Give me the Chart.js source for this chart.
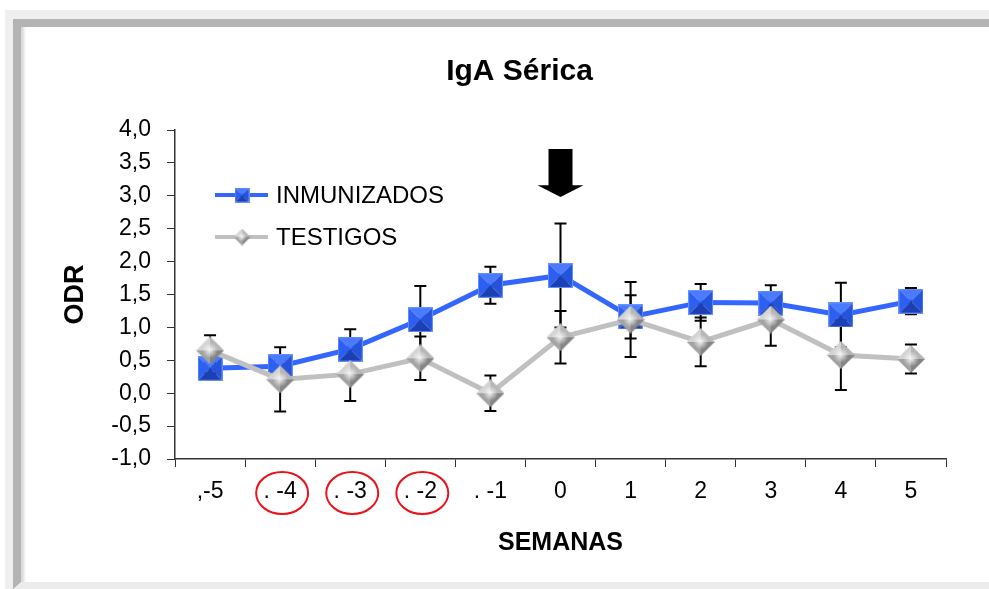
<!DOCTYPE html>
<html>
<head>
<meta charset="utf-8">
<title>IgA Sérica</title>
<script src="https://cdn.jsdelivr.net/npm/chart.js@4.4.1/dist/chart.umd.min.js"></script>
<style>
    html, body { margin: 0; padding: 0; width: 989px; height: 589px; overflow: hidden; background: #fff; }
    #outer { position: absolute; left: 5px; top: 10px; right: 0; bottom: 0; background: #efefef; }
    #frame { position: absolute; left: 13px; top: 19px; right: 0; bottom: 0; box-sizing: border-box;
             border-top: 8px solid #b4b4b4; border-left: 8px solid #b4b4b4; border-bottom: 7px solid #ececec;
             background: #fff; box-shadow: inset 5px 0 3px -2px #d8d8d8; }
    #chartBox { position: absolute; left: 0; top: 0; width: 989px; height: 589px; }
</style>
</head>
<body>
<div id="outer"></div>
<div id="frame"></div>
<div id="chartBox"><canvas id="igaChart" width="989" height="589"></canvas></div>
<script>
// Data
const semanas = [',-5', '. -4', '. -3', '. -2', '. -1', '0', '1', '2', '3', '4', '5'];
const inmunizados = [0.38, 0.41, 0.67, 1.12, 1.64, 1.79, 1.16, 1.38, 1.37, 1.19, 1.40];
const inmunizadosErr = [0.08, 0.10, 0.30, 0.51, 0.28, 0.79, 0.33, 0.28, 0.27, 0.49, 0.20];
const testigos = [0.65, 0.21, 0.29, 0.53, 0.00, 0.85, 1.12, 0.78, 1.12, 0.58, 0.52];
const testigosErr = [0.23, 0.49, 0.41, 0.33, 0.27, 0.40, 0.57, 0.37, 0.40, 0.53, 0.22];
const circledWeeks = [1, 2, 3];          // labels ringed in red
const arrowWeek = 5;                     // arrow over week 0
const arrowValues = [3.71, 3.16, 2.98];  // shaft top, head start, tip (ODR units)
const chartTitle = 'IgA Sérica';

const FONT = '"Liberation Sans", Arial, sans-serif';
Chart.defaults.font.family = FONT;

// Helper to fill a triangle
function tri(g, a, b, c, color) {
    g.beginPath();
    g.moveTo(a[0], a[1]);
    g.lineTo(b[0], b[1]);
    g.lineTo(c[0], c[1]);
    g.closePath();
    g.fillStyle = color;
    g.fill();
}

// Beveled blue square marker (Excel style)
function makeSquare(size) {
    const c = document.createElement('canvas');
    c.width = c.height = size;
    const g = c.getContext('2d');
    const m = size / 2;
    tri(g, [0, 0], [size, 0], [m, m], '#4a7bff');
    tri(g, [0, 0], [0, size], [m, m], '#2d60f2');
    tri(g, [size, 0], [size, size], [m, m], '#2553da');
    tri(g, [0, size], [size, size], [m, m], '#1c40b4');
    g.strokeStyle = 'rgba(110,150,255,0.9)';
    g.lineWidth = 1;
    g.strokeRect(0.5, 0.5, size - 1, size - 1);
    return c;
}

// Beveled gray diamond marker
function makeDiamond(size) {
    const c = document.createElement('canvas');
    c.width = c.height = size;
    const g = c.getContext('2d');
    const m = size / 2;
    tri(g, [m, 0], [0, m], [m, m], '#d4d4d4');
    tri(g, [m, 0], [size, m], [m, m], '#b6b6b6');
    tri(g, [0, m], [m, size], [m, m], '#a2a2a2');
    tri(g, [size, m], [m, size], [m, m], '#858585');
    const rg = g.createRadialGradient(m, m, 0, m, m, m * 0.55);
    rg.addColorStop(0, 'rgba(255,255,255,0.85)');
    rg.addColorStop(1, 'rgba(255,255,255,0)');
    g.beginPath();
    g.moveTo(m, 0); g.lineTo(size, m); g.lineTo(m, size); g.lineTo(0, m);
    g.closePath();
    g.fillStyle = rg;
    g.fill();
    return c;
}

const squareBig = makeSquare(25);
const diamondBig = makeDiamond(28);
const squareSmall = makeSquare(15);
const diamondSmall = makeDiamond(17);

// Error bars drawn under the lines and markers
const errorBarPlugin = {
    id: 'errorBars',
    beforeDatasetsDraw(chart) {
        const ctx = chart.ctx;
        const y = chart.scales.y;
        ctx.save();
        ctx.strokeStyle = '#000';
        ctx.lineWidth = 2;
        chart.data.datasets.forEach((ds, i) => {
            const meta = chart.getDatasetMeta(i);
            meta.data.forEach((pt, j) => {
                const e = ds.errors[j];
                const top = y.getPixelForValue(ds.data[j] + e);
                const bot = y.getPixelForValue(ds.data[j] - e);
                ctx.beginPath();
                ctx.moveTo(pt.x, top); ctx.lineTo(pt.x, bot);
                ctx.moveTo(pt.x - 6, top); ctx.lineTo(pt.x + 6, top);
                ctx.moveTo(pt.x - 6, bot); ctx.lineTo(pt.x + 6, bot);
                ctx.stroke();
            });
        });
        ctx.restore();
    }
};

// Title, arrow, red circles and the in-plot legend
const annotationPlugin = {
    id: 'annotations',
    afterDraw(chart) {
        const ctx = chart.ctx;
        const xs = chart.scales.x;
        const ys = chart.scales.y;
        const area = chart.chartArea;
        ctx.save();

        // title (sits a little left of the plot centre, like the original)
        ctx.fillStyle = '#000';
        ctx.font = 'bold 30px ' + FONT;
        ctx.textAlign = 'center';
        ctx.textBaseline = 'middle';
        ctx.fillText(chartTitle, (area.left + area.right) / 2 - 41, area.top - 58);

        // black arrow
        const ax = xs.getPixelForValue(arrowWeek);
        const y0 = ys.getPixelForValue(arrowValues[0]);
        const y1 = ys.getPixelForValue(arrowValues[1]);
        const y2 = ys.getPixelForValue(arrowValues[2]);
        ctx.beginPath();
        ctx.moveTo(ax - 12, y0); ctx.lineTo(ax + 12, y0); ctx.lineTo(ax + 12, y1);
        ctx.lineTo(ax + 23, y1); ctx.lineTo(ax, y2); ctx.lineTo(ax - 23, y1);
        ctx.lineTo(ax - 12, y1);
        ctx.closePath();
        ctx.fill();

        // red ellipses round the tick labels
        ctx.strokeStyle = '#e8141c';
        ctx.lineWidth = 2;
        circledWeeks.forEach(i => {
            const cx = xs.getPixelForValue(i) + 2;
            ctx.beginPath();
            ctx.ellipse(cx, xs.top + 34, 26, 21, 0, 0, Math.PI * 2);
            ctx.stroke();
        });

        // legend
        ctx.textAlign = 'left';
        chart.data.datasets.forEach((ds, i) => {
            const ly = area.top + 65 + i * 42;
            const lx = area.left + 40;
            ctx.strokeStyle = ds.borderColor;
            ctx.lineWidth = 4;
            ctx.beginPath();
            ctx.moveTo(lx, ly); ctx.lineTo(lx + 53, ly);
            ctx.stroke();
            const img = ds.legendMarker;
            ctx.drawImage(img, lx + 27 - img.width / 2, ly - img.height / 2);
            ctx.fillStyle = '#000';
            ctx.font = '24px ' + FONT;
            ctx.fillText(ds.label, lx + 61, ly + 1);
        });
        ctx.restore();
    }
};

function renderChart() {
    const ctx = document.getElementById('igaChart').getContext('2d');
    new Chart(ctx, {
        type: 'line',
        data: {
            labels: semanas,
            datasets: [{
                label: 'INMUNIZADOS',
                data: inmunizados,
                errors: inmunizadosErr,
                borderColor: '#3366ff',
                borderWidth: 5,
                pointStyle: squareBig,
                legendMarker: squareSmall,
                tension: 0,
                order: 1
            }, {
                label: 'TESTIGOS',
                data: testigos,
                errors: testigosErr,
                borderColor: '#c0c0c0',
                borderWidth: 5,
                pointStyle: diamondBig,
                legendMarker: diamondSmall,
                tension: 0,
                order: 0
            }]
        },
        options: {
            responsive: false,
            animation: false,
            layout: { padding: { left: 0, right: 43, top: 130, bottom: 0 } },
            plugins: {
                legend: { display: false },
                tooltip: { enabled: false },
                title: { display: false }
            },
            scales: {
                x: {
                    offset: true,
                    grid: { offset: true, drawOnChartArea: false, tickLength: 8, color: '#333' },
                    border: { color: '#333', width: 1.5 },
                    ticks: { color: '#000', font: { size: 23 }, padding: 11, autoSkip: false, maxRotation: 0 },
                    title: {
                        display: true, text: 'SEMANAS', color: '#000',
                        font: { size: 25, weight: 'bold' }, padding: { top: 0, bottom: 31 }
                    },
                    afterFit: s => { s.height = 130; }
                },
                y: {
                    min: -1,
                    max: 4,
                    grid: { drawOnChartArea: false, tickLength: 8, color: '#333' },
                    border: { color: '#333', width: 1.5 },
                    ticks: {
                        stepSize: 0.5, color: '#000', font: { size: 23 }, padding: 16,
                        callback: v => v.toFixed(1).replace('.', ',')
                    },
                    title: {
                        display: true, text: 'ODR', color: '#000',
                        font: { size: 27, weight: 'bold' }, padding: { top: 59, bottom: 0 }
                    },
                    afterFit: s => { s.width = 175; }
                }
            }
        },
        plugins: [errorBarPlugin, annotationPlugin]
    });
}

document.addEventListener('DOMContentLoaded', renderChart);
</script>
</body>
</html>
